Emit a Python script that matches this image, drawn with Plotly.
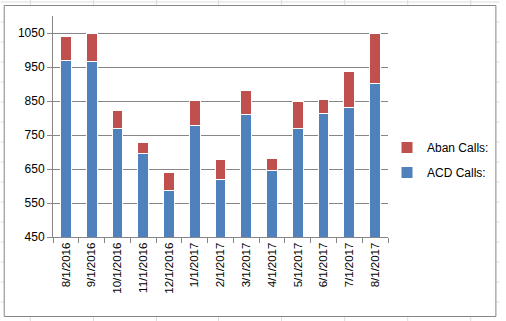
import plotly.graph_objects as go

months = ["8/1/2016", "9/1/2016", "10/1/2016", "11/1/2016", "12/1/2016",
          "1/1/2017", "2/1/2017", "3/1/2017", "4/1/2017", "5/1/2017",
          "6/1/2017", "7/1/2017", "8/1/2017"]
acd_calls = [970, 965, 770, 695, 587, 777, 619, 811, 647, 770, 814, 831, 902]
aban_calls = [70, 85, 51, 32, 54, 74, 60, 70, 35, 78, 40, 106, 147]
y_ticks = [450, 550, 650, 750, 850, 950, 1050]

W, H = 506, 321
L, R, T, B = 53, 113, 16, 84
PW, PH = W - L - R, H - T - B

def px(x):
    return (x - L) / PW

def py(y):
    return (H - B - y) / PH

fig = go.Figure()
fig.add_trace(go.Bar(x=months, y=acd_calls, name="ACD Calls:",
                     marker=dict(color="#4F81BD", line=dict(color="white", width=1)),
                     legendgroup="acd", legendrank=2))
fig.add_trace(go.Bar(x=months, y=aban_calls, name="Aban Calls:",
                     marker=dict(color="#C0504D", line=dict(color="white", width=1)),
                     legendgroup="aban", legendrank=1))

shapes = []
grid_col = "#DADCDD"
for gx in [30, 94, 158, 221, 285, 349, 413, 477]:
    shapes.append(dict(type="line", xref="paper", yref="paper", layer="below",
                       x0=px(gx), x1=px(gx), y0=py(0), y1=py(H),
                       line=dict(color=grid_col, width=1)))
for gy in range(2, H, 20):
    shapes.append(dict(type="line", xref="paper", yref="paper", layer="below",
                       x0=px(0), x1=px(W), y0=py(gy), y1=py(gy),
                       line=dict(color=grid_col, width=1)))
shapes.append(dict(type="rect", xref="paper", yref="paper", layer="below",
                   x0=px(3.5), x1=px(502.5), y0=py(316.5), y1=py(5.5),
                   fillcolor="white", line=dict(color="#868686", width=1)))

fig.update_layout(
    width=W, height=H,
    margin=dict(l=L, r=R, t=T, b=B),
    paper_bgcolor="white",
    plot_bgcolor="rgba(0,0,0,0)",
    barmode="stack",
    bargap=0.58,
    font=dict(family="Liberation Sans", size=11, color="#000000"),
    shapes=shapes,
    showlegend=True,
    legend=dict(traceorder="grouped", tracegroupgap=6,
                x=px(392), y=py(160), xanchor="left", yanchor="middle",
                bgcolor="rgba(0,0,0,0)", itemwidth=30,
                font=dict(family="Liberation Sans", size=12, color="#000000")),
    xaxis=dict(type="category", tickangle=-90, showgrid=False,
               showline=True, linecolor="#868686", linewidth=1,
               ticks="outside", tickson="boundaries", ticklen=5, tickcolor="#868686",
               tickfont=dict(family="Liberation Sans", size=11.5)),
    yaxis=dict(range=[450, 1100], tickvals=y_ticks, showgrid=True,
               gridcolor="#868686", gridwidth=1,
               showline=True, linecolor="#868686", linewidth=1,
               ticks="outside", ticklen=5, tickcolor="#868686",
               tickfont=dict(family="Liberation Sans", size=12),
               zeroline=False),
)

fig.write_html("out.html")
